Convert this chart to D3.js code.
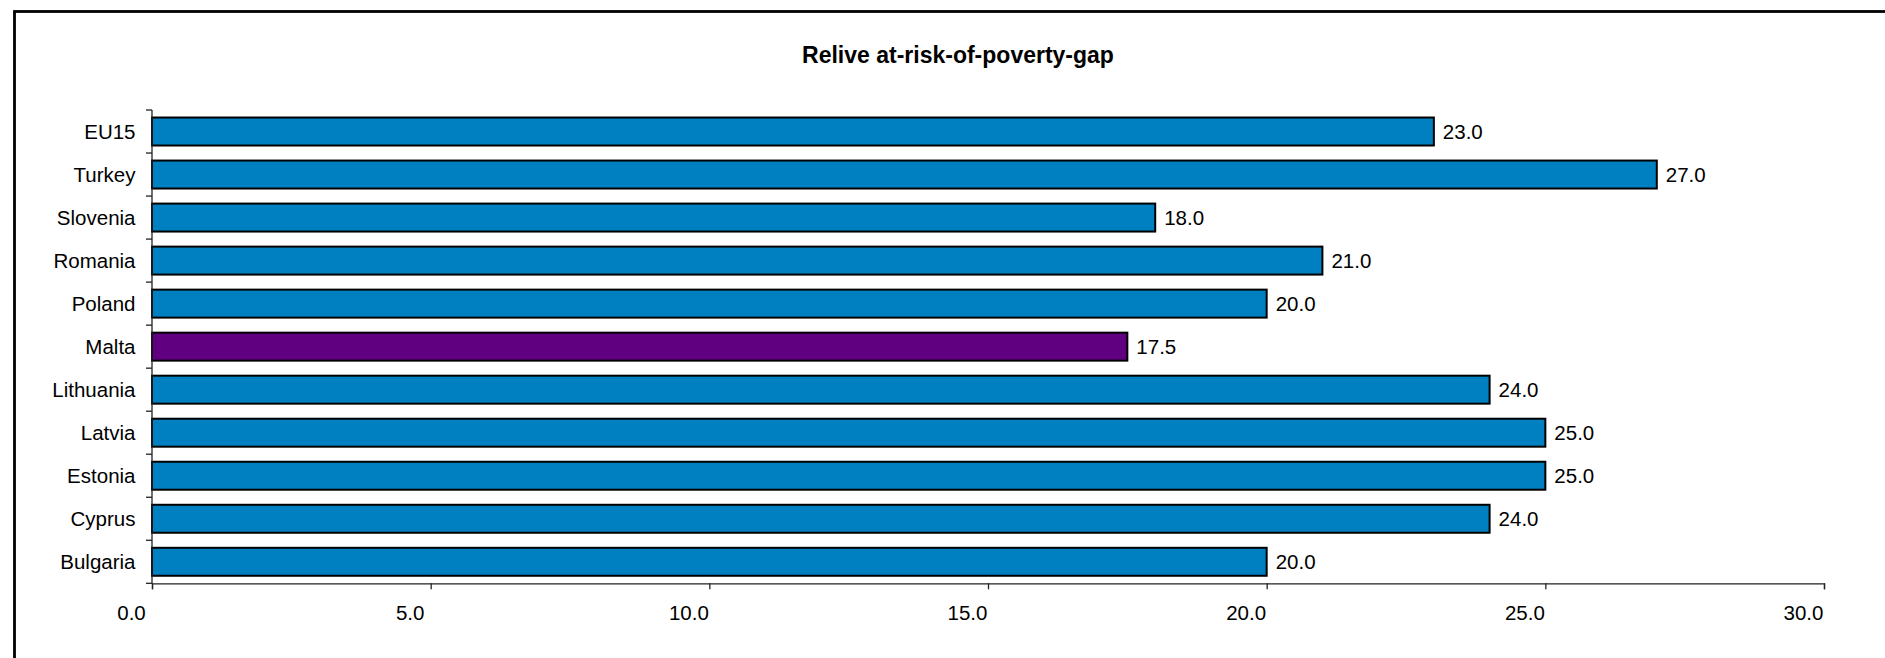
<!DOCTYPE html>
<html>
<head>
<meta charset="utf-8">
<script src="https://cdn.jsdelivr.net/npm/d3@7"></script>
<style>
  html, body { margin: 0; padding: 0; background: #fff; }
  svg { display: block; }
  text { font-family: "Liberation Sans", Arial, sans-serif; fill: #000; }
</style>
</head>
<body>
<svg id="chart" width="1885" height="658"></svg>
<script>
const title = "Relive at-risk-of-poverty-gap";
const categories = ["EU15", "Turkey", "Slovenia", "Romania", "Poland", "Malta", "Lithuania", "Latvia", "Estonia", "Cyprus", "Bulgaria"];
const values = [23.0, 27.0, 18.0, 21.0, 20.0, 17.5, 24.0, 25.0, 25.0, 24.0, 20.0];
const highlight = ["Malta"];
const xTicks = [0, 5, 10, 15, 20, 25, 30];

(function () {
const svg = d3.select("#chart");
const W = 1885, H = 658;

// Outer frame (open at right and bottom, like the reference crop)
svg.append("rect")
  .attr("x", 14.5).attr("y", 11.5)
  .attr("width", W + 20).attr("height", H + 20)
  .attr("fill", "none").attr("stroke", "#000").attr("stroke-width", 2.8);

const pL = 152, pR = 1824, pT = 110, pB = 583.3;

const x = d3.scaleLinear().domain([0, 30]).range([pL, pR]);
const y = d3.scaleBand().domain(categories).range([pT, pB])
  .paddingInner(0.35).paddingOuter(0.175);

// Title
svg.append("text")
  .attr("x", 958).attr("y", 63)
  .attr("text-anchor", "middle")
  .style("font-size", "23px").style("font-weight", "bold")
  .text(title);

// Bars
svg.append("g").selectAll("rect")
  .data(categories)
  .join("rect")
  .attr("x", x(0))
  .attr("y", d => y(d))
  .attr("width", (d, i) => x(values[i]) - x(0))
  .attr("height", y.bandwidth())
  .attr("fill", d => highlight.includes(d) ? "#600080" : "#0080C0")
  .attr("stroke", "#000").attr("stroke-width", 2);

// Value labels
svg.append("g").selectAll("text")
  .data(categories)
  .join("text")
  .attr("x", (d, i) => x(values[i]) + 9)
  .attr("y", d => y(d) + y.bandwidth() / 2)
  .attr("dy", "0.35em")
  .style("font-size", "20.5px")
  .text((d, i) => d3.format(".1f")(values[i]));

// X axis
const xAxis = d3.axisBottom(x).tickValues(xTicks).tickSize(6).tickFormat(d3.format(".1f"));
const gx = svg.append("g").attr("transform", `translate(0,${pB})`).call(xAxis);
gx.select(".domain").attr("stroke", "#222").attr("stroke-width", 1.3);
gx.selectAll(".tick line").attr("stroke", "#222").attr("stroke-width", 1.3);
gx.selectAll(".tick text")
  .attr("x", -21).attr("y", 0).attr("dy", 0)
  .attr("transform", "translate(0,37)")
  .style("font-size", "20.5px")
  .style("font-family", "'Liberation Sans', Arial, sans-serif")
  .attr("fill", "#000");

// Y axis (category labels, ticks at band boundaries)
const gy = svg.append("g");
gy.append("line")
  .attr("x1", pL).attr("x2", pL)
  .attr("y1", pT).attr("y2", pB)
  .attr("stroke", "#222").attr("stroke-width", 1.3);
const boundaries = categories.map(d => y(d) - y.step() * y.paddingInner() / 2).concat([pB]);
gy.selectAll("line.tk")
  .data(boundaries)
  .join("line").attr("class", "tk")
  .attr("x1", pL - 6).attr("x2", pL)
  .attr("y1", d => d).attr("y2", d => d)
  .attr("stroke", "#222").attr("stroke-width", 1.3);
gy.selectAll("text")
  .data(categories)
  .join("text")
  .attr("x", 135.5)
  .attr("y", d => y(d) + y.bandwidth() / 2)
  .attr("dy", "0.35em")
  .attr("text-anchor", "end")
  .style("font-size", "20.5px")
  .text(d => d);
})();
</script>
</body>
</html>
